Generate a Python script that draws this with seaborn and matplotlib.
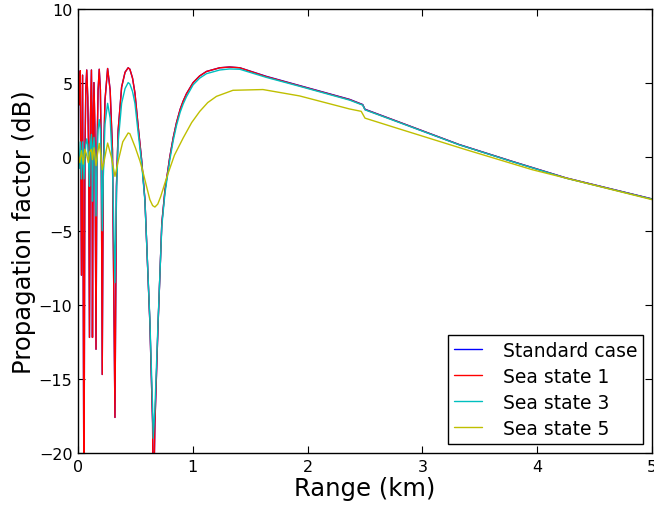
import matplotlib
matplotlib.use("Agg")
import matplotlib.pyplot as plt
import seaborn as sns
import pandas as pd

# ---- data (range in km, propagation factor in dB) ----
series_names = ["Standard case", "Sea state 1", "Sea state 3", "Sea state 5"]
series_colors = ["#0000ff", "#ff0000", "#00bfbf", "#bfbf00"]

std_range = [0.0, 0.010, 0.020, 0.030, 0.040, 0.052, 0.060, 0.068, 0.076, 0.085, 0.093, 0.100,
             0.108, 0.117, 0.122, 0.126, 0.133, 0.139, 0.147, 0.157, 0.165, 0.175, 0.185,
             0.195, 0.203, 0.211, 0.220, 0.235, 0.258, 0.280, 0.300, 0.322, 0.335, 0.350,
             0.380, 0.410, 0.437, 0.452, 0.475, 0.496, 0.524, 0.554, 0.583, 0.626, 0.650, 0.655,
             0.670, 0.698, 0.730, 0.757, 0.800, 0.830, 0.858, 0.890, 0.916, 0.945, 1.003, 1.060,
             1.119, 1.235, 1.320, 1.409, 1.641, 1.930, 2.365, 2.480, 2.500, 2.800, 3.320, 3.780,
             4.250, 5.000]
std_db = [5.6, 3.5, 5.8, -8.0, 5.5, -25.0, 0.0, 4.5, 5.85, 4.0, 0.0, -12.2,
          2.5, 5.85, 2.5, -12.2, 2.0, 5.0, 2.0, -13.0, 0.0, 4.5, 5.9,
          4.5, 0.0, -14.7, -1.0, 3.8, 5.95, 4.5, 0.5, -17.6, -2.0, 1.8,
          4.7, 5.7, 6.0, 5.9, 5.3, 4.3, 2.05, -0.2, -2.9, -11.2, -18.0, -25.0,
          -18.0, -11.2, -4.5, -2.3, 0.0, 1.3, 2.3, 3.2, 3.75, 4.25, 5.0, 5.45,
          5.75, 6.0, 6.05, 6.0, 5.42, 4.8, 3.87, 3.52, 3.2, 2.33, 0.82, -0.31,
          -1.43, -2.85]

ss1_range = std_range
ss1_db = [4.8, 3.5, 5.8, -8.0, 5.5, -25.0, 0.0, 4.5, 5.85, 4.0, 0.0, -12.2,
          2.5, 5.85, 2.5, -12.2, 2.0, 5.0, 2.0, -13.0, 0.0, 4.5, 5.9,
          4.5, 0.0, -14.7, -1.0, 3.8, 5.95, 4.5, 0.5, -17.6, -2.0, 1.8,
          4.7, 5.7, 6.0, 5.9, 5.3, 4.3, 2.05, -0.2, -2.9, -11.2, -18.0, -25.0,
          -18.0, -11.2, -4.5, -2.3, 0.0, 1.3, 2.3, 3.2, 3.75, 4.25, 5.0, 5.45,
          5.75, 6.0, 6.05, 6.0, 5.4, 4.78, 3.85, 3.5, 3.18, 2.32, 0.81, -0.32,
          -1.44, -2.86]

ss3_range = std_range
ss3_db = [0.5, -0.8, 1.0, -1.5, 1.0, -1.5, 0.0, 0.8, 1.2, 0.8, -0.5, -2.0,
          0.8, 1.5, 0.5, -3.0, 0.5, 1.3, 0.3, -4.0, -0.5, 1.8, 2.5,
          1.8, -0.5, -5.0, -1.5, 2.2, 3.6, 2.6, -0.5, -8.5, -2.5, 1.0,
          3.6, 4.6, 5.0, 4.9, 4.4, 3.6, 1.6, -0.4, -3.0, -11.0, -17.0, -19.0,
          -17.0, -11.0, -4.7, -2.5, -0.2, 1.1, 2.1, 3.0, 3.55, 4.05, 4.85, 5.3,
          5.6, 5.85, 5.92, 5.9, 5.35, 4.75, 3.82, 3.48, 3.16, 2.3, 0.8, -0.33,
          -1.45, -2.87]

ss5_range = [0.0, 0.015, 0.030, 0.045, 0.060, 0.076, 0.090, 0.100, 0.117, 0.126, 0.139,
             0.157, 0.170, 0.185, 0.200, 0.211, 0.230, 0.258, 0.290, 0.322, 0.350, 0.390,
             0.437, 0.452, 0.500, 0.540, 0.568, 0.600, 0.626, 0.650, 0.670, 0.695, 0.720,
             0.771, 0.840, 0.916, 0.990, 1.061, 1.130, 1.206, 1.350, 1.611, 1.930, 2.365,
             2.467, 2.500, 2.800, 3.380, 3.957, 5.000]
ss5_db = [0.3, -0.4, 0.4, -0.5, 0.5, 0.1, -0.4, 0.3, 0.5, -0.2, 0.6,
          -0.6, 0.2, 0.9, 0.0, -0.88, -0.2, 0.92, 0.0, -1.33, -0.3, 1.0,
          1.6, 1.55, 0.6, -0.3, -1.1, -2.1, -2.9, -3.3, -3.4, -3.2, -2.7,
          -1.44, 0.1, 1.26, 2.3, 3.06, 3.65, 4.07, 4.48, 4.53, 4.1, 3.22,
          3.06, 2.6, 1.87, 0.47, -0.88, -2.9]

x_ticks = [0, 1, 2, 3, 4, 5]
y_ticks = [-20, -15, -10, -5, 0, 5, 10]

# ---- build long-form table ----
frames = []
for name, xs, ys in [(series_names[0], std_range, std_db),
                     (series_names[1], ss1_range, ss1_db),
                     (series_names[2], ss3_range, ss3_db),
                     (series_names[3], ss5_range, ss5_db)]:
    frames.append(pd.DataFrame({"Range": xs, "Value": ys, "Series": name}))
df = pd.concat(frames, ignore_index=True)

sns.set_theme(style="white")
plt.rcParams["font.family"] = ["DejaVu Sans"]
plt.rcParams["text.color"] = "black"
plt.rcParams["axes.labelcolor"] = "black"
plt.rcParams["xtick.color"] = "black"
plt.rcParams["ytick.color"] = "black"

fig = plt.figure(figsize=(6.54, 5.06), dpi=100)
ax = fig.add_axes([78 / 654, (506 - 454) / 506, (652 - 78) / 654, (454 - 9.5) / 506])

sns.lineplot(data=df, x="Range", y="Value", hue="Series", hue_order=series_names,
             palette=dict(zip(series_names, series_colors)), estimator=None,
             sort=False, units="Series", linewidth=1.0, ax=ax)

ax.set_xlim(0, 5)
ax.set_ylim(-20, 10)
ax.set_xticks(x_ticks)
ax.set_yticks(y_ticks)
ax.set_xlabel("Range (km)", fontsize=17.5, labelpad=2, color="black")
ax.set_ylabel("Propagation factor (dB)", fontsize=17.5, labelpad=2, color="black")
ax.tick_params(axis="both", which="major", direction="in", length=5, width=0.8,
               top=True, right=True, bottom=True, left=True, labelsize=11.5,
               colors="black", labelcolor="black", pad=4)
for sp in ax.spines.values():
    sp.set_color("black")
    sp.set_linewidth(1.0)

leg = ax.legend(loc="lower right", fontsize=13.5, frameon=True, fancybox=False,
                handlelength=1.5, handletextpad=1.1, borderaxespad=0.5,
                labelspacing=0.38, borderpad=0.3)
leg.get_frame().set_edgecolor("black")
leg.get_frame().set_linewidth(1.0)
leg.get_frame().set_alpha(1.0)
for line in leg.get_lines():
    line.set_linewidth(1.0)
for t in leg.get_texts():
    t.set_color("black")

fig.savefig("out.png", dpi=100)
